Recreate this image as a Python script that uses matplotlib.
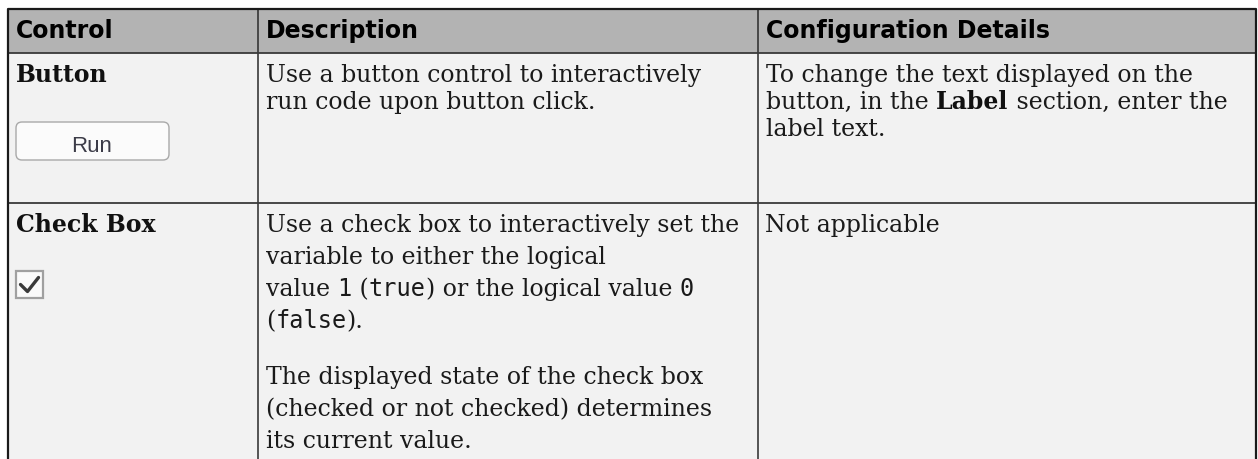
import matplotlib
matplotlib.use("Agg")
import matplotlib.pyplot as plt
from matplotlib.patches import Rectangle, FancyBboxPatch

# table content
headers = ["Control", "Description", "Configuration Details"]
controls = ["Button", "Check Box"]
button_label = "Run"

# each line is a list of (text, style) runs; style: r = serif, b = bold serif, m = mono
desc_button = [
    [("Use a button control to interactively", "r")],
    [("run code upon button click.", "r")],
]
detail_button = [
    [("To change the text displayed on the", "r")],
    [("button, in the ", "r"), ("Label", "b"), (" section, enter the", "r")],
    [("label text.", "r")],
]
desc_checkbox = [
    [("Use a check box to interactively set the", "r")],
    [("variable to either the logical", "r")],
    [("value ", "r"), ("1", "m"), (" (", "r"), ("true", "m"), (") or the logical value ", "r"), ("0", "m")],
    [("(", "r"), ("false", "m"), (").", "r")],
    None,
    [("The displayed state of the check box", "r")],
    [("(checked or not checked) determines", "r")],
    [("its current value.", "r")],
]
detail_checkbox = [[("Not applicable", "r")]]

W, H = 1258, 459
col_x = [8, 258, 758, 1256]
top, head_bot, row_sep = 9, 53, 203

fig = plt.figure(figsize=(W / 100, H / 100), dpi=100)
ax = fig.add_axes([0, 0, 1, 1])
ax.set_xlim(0, W)
ax.set_ylim(H, 0)
ax.axis("off")

styles = {
    "r": dict(family="DejaVu Serif", fontsize=17, color="#1a1a1a"),
    "b": dict(family="DejaVu Serif", fontsize=17, weight="bold", color="#111111"),
    "m": dict(family="DejaVu Sans Mono", fontsize=17, color="#1a1a1a"),
}
renderer = fig.canvas.get_renderer()


def width(s, st):
    t1 = ax.text(0, 0, "|" + s + "|", **styles[st])
    t2 = ax.text(0, 0, "||", **styles[st])
    w = t1.get_window_extent(renderer).width - t2.get_window_extent(renderer).width
    t1.remove()
    t2.remove()
    return w


def draw_lines(lines, x0, y0, step, gap):
    y = y0
    for line in lines:
        if line is None:
            y += gap
            continue
        x = x0
        for s, st in line:
            ax.text(x, y, s, va="baseline", ha="left", **styles[st])
            x += width(s, st)
        y += step


# backgrounds
ax.add_patch(Rectangle((col_x[0], top), col_x[-1] - col_x[0], head_bot - top,
                       facecolor="#b3b3b3", edgecolor="none"))
ax.add_patch(Rectangle((col_x[0], head_bot), col_x[-1] - col_x[0], H - head_bot + 5,
                       facecolor="#f2f2f2", edgecolor="none"))

# grid lines
for x in col_x[1:-1]:
    ax.plot([x, x], [top, H + 2], color="#2a2a2a", lw=1.1)
for y in [head_bot, row_sep]:
    ax.plot([col_x[0], col_x[-1]], [y, y], color="#3a3a3a", lw=1.3)
ax.plot([col_x[0], col_x[0], col_x[-1], col_x[-1]], [H + 2, top, top, H + 2],
        color="#1a1a1a", lw=1.6)

# header
for x, h in zip(col_x[:-1], headers):
    ax.text(x + 8, 38, h, family="DejaVu Sans", weight="bold", fontsize=17,
            color="black", va="baseline")

# row labels
for c, yb in zip(controls, [82, 232]):
    ax.text(col_x[0] + 8, yb, c, va="baseline", **styles["b"])

# run button
ax.add_patch(FancyBboxPatch((18, 124), 149, 34, boxstyle="round,pad=2,rounding_size=6",
                            facecolor="#fbfbfb", edgecolor="#a9a9a9", lw=1.0))
ax.text(92, 152, button_label, family="Liberation Sans", fontsize=16, color="#3c3c48",
        ha="center", va="baseline")

# check box
ax.add_patch(Rectangle((16, 271), 27, 27, facecolor="#fafafa", edgecolor="#a0a0a0", lw=1.6))
ax.plot([20.5, 27.5, 38.5], [284.5, 291.5, 277.5], color="#3a3a3a", lw=2.4,
        solid_capstyle="round", solid_joinstyle="round")

# body text
draw_lines(desc_button, col_x[1] + 8, 82, 27, 0)
draw_lines(detail_button, col_x[2] + 8, 82, 27, 0)
draw_lines(desc_checkbox, col_x[1] + 8, 232, 32, 24)
draw_lines(detail_checkbox, col_x[2] + 7, 232, 32, 0)

fig.savefig("out.png", dpi=100, facecolor="white")
